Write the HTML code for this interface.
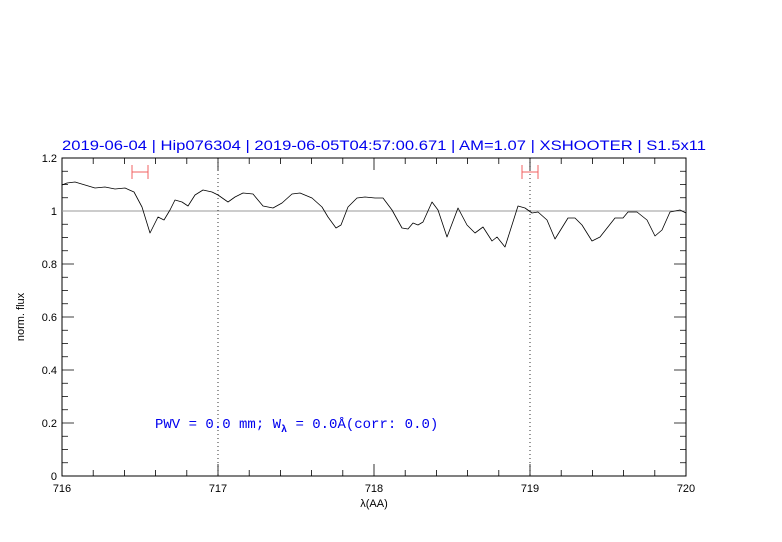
<!DOCTYPE html>
<html><head><style>body{margin:0;background:#fff}svg{display:block}</style></head><body>
<svg width="782" height="542" xmlns="http://www.w3.org/2000/svg" font-family="Liberation Sans, sans-serif">
<rect width="782" height="542" fill="#fff"/>
<text x="62" y="150" fill="#0000ee" font-size="13.5" textLength="644" lengthAdjust="spacingAndGlyphs">2019-06-04 | Hip076304 | 2019-06-05T04:57:00.671 | AM=1.07 | XSHOOTER | S1.5x11</text>
<g stroke="#000" stroke-width="1" fill="none">
<rect x="62" y="158" width="624" height="318"/>
</g>
<g stroke="#000" stroke-width="0.8">
<path d="M62,476v-12M218,476v-12M374,476v-12M530,476v-12M686,476v-12M62,158v12M218,158v12M374,158v12M530,158v12M686,158v12
M93.2,476v-6M124.4,476v-6M155.6,476v-6M186.8,476v-6M249.2,476v-6M280.4,476v-6M311.6,476v-6M342.8,476v-6M405.2,476v-6M436.4,476v-6M467.6,476v-6M498.8,476v-6M561.2,476v-6M592.4,476v-6M623.6,476v-6M654.8,476v-6
M93.2,158v6M124.4,158v6M155.6,158v6M186.8,158v6M249.2,158v6M280.4,158v6M311.6,158v6M342.8,158v6M405.2,158v6M436.4,158v6M467.6,158v6M498.8,158v6M561.2,158v6M592.4,158v6M623.6,158v6M654.8,158v6"/>
<path d="M62,476h12M62,423h12M62,370h12M62,317h12M62,264h12M62,211h12M62,158h12M686,476h-12M686,423h-12M686,370h-12M686,317h-12M686,264h-12M686,211h-12
M62,462.75h6M62,449.5h6M62,436.25h6M62,409.75h6M62,396.5h6M62,383.25h6M62,356.75h6M62,343.5h6M62,330.25h6M62,303.75h6M62,290.5h6M62,277.25h6M62,250.75h6M62,237.5h6M62,224.25h6M62,197.75h6M62,184.5h6M62,171.25h6
M686,462.75h-6M686,449.5h-6M686,436.25h-6M686,409.75h-6M686,396.5h-6M686,383.25h-6M686,356.75h-6M686,343.5h-6M686,330.25h-6M686,303.75h-6M686,290.5h-6M686,277.25h-6M686,250.75h-6M686,237.5h-6M686,224.25h-6M686,197.75h-6M686,184.5h-6M686,171.25h-6"/>
</g>
<g font-size="11" fill="#000" text-anchor="end">
<text x="57" y="480">0</text><text x="57" y="427">0.2</text><text x="57" y="374">0.4</text><text x="57" y="321">0.6</text><text x="57" y="268">0.8</text><text x="57" y="215">1</text><text x="57" y="162">1.2</text>
</g>
<g font-size="11" fill="#000" text-anchor="middle">
<text x="62" y="492">716</text><text x="218" y="492">717</text><text x="374" y="492">718</text><text x="530" y="492">719</text><text x="686" y="492">720</text>
<text x="374" y="507">λ(AA)</text>
</g>
<text transform="translate(24,317) rotate(-90)" font-size="11" text-anchor="middle">norm. flux</text>
<line x1="62" y1="211" x2="686" y2="211" stroke="#999" stroke-width="1"/>
<g stroke="#000" stroke-width="0.8" stroke-dasharray="1,3"><line x1="218" y1="158" x2="218" y2="476"/><line x1="530" y1="158" x2="530" y2="476"/></g>
<g stroke="#f06060" stroke-width="1"><path d="M132,165v14M148,165v14M132,172h16M522,165v14M538,165v14M522,172h16"/></g>
<polyline fill="none" stroke="#000" stroke-width="0.8" stroke-linejoin="round" points="62,185 67,183 75,182 85,185 95,188 105,187 115,189 125,188 134,192 142,207 150,233 158,217 164,220 170,210 175,200 182,202 188,206 195,195 203,190 212,192 218,195 228,202 235,197 243,193 253,194 263,206 273,208 282,203 292,194 300,193 312,198 322,207 328,217 336,228 341,225 348,207 357,198 365,197 375,198 383,198 392,210 402,228 408,229 413,223 418,225 423,222 432,202 438,210 447,237 458,208 467,225 475,233 483,227 492,241 497,237 505,247 518,206 525,208 532,213 538,212 547,220 555,239 568,218 575,218 582,225 592,241 600,237 615,218 623,218 628,212 637,212 647,220 655,236 662,230 670,212 680,210 686,213"/>
<text x="155" y="428" fill="#0000ee" font-size="14" font-family="Liberation Mono, monospace">PWV = 0.0 mm; W<tspan font-size="10" dy="4" font-weight="bold">λ</tspan><tspan dy="-4"> = 0.0Å(corr: 0.0)</tspan></text>
</svg>
</body></html>
